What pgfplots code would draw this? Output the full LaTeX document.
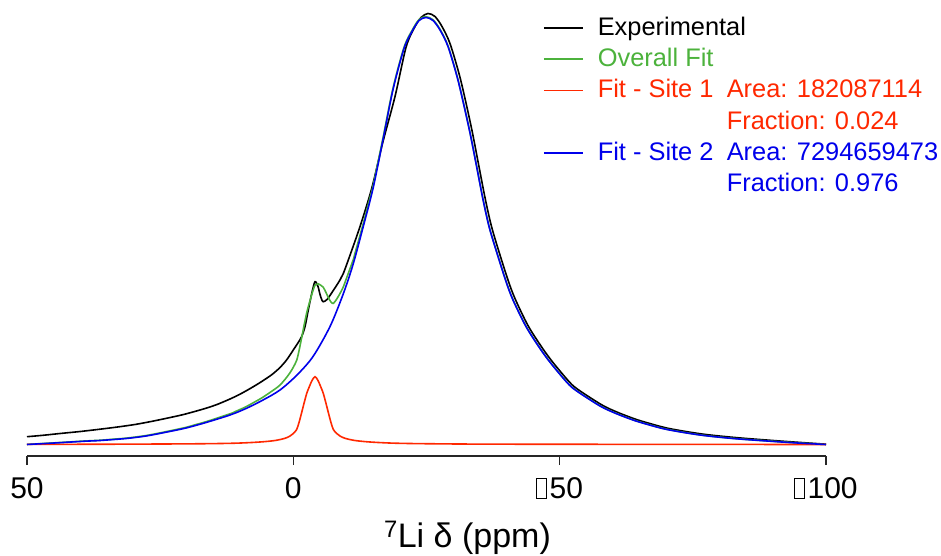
\documentclass[border=0pt]{standalone}
\usepackage{fontspec}
\setmainfont{Liberation Sans}
\usepackage{pgfplots}
\pgfplotsset{compat=1.18}
\definecolor{cgreen}{RGB}{76,178,60}
\definecolor{cred}{RGB}{255,40,0}
\definecolor{cblue}{RGB}{0,0,235}
\newcommand{\nd}{{\setlength{\fboxsep}{0pt}\setlength{\fboxrule}{1.1pt}\fbox{\rule{0pt}{19pt}\hspace{8.5pt}}}\hspace{2.5pt}}
\begin{document}
\begin{tikzpicture}
\useasboundingbox (-27pt,-100pt) rectangle (914pt,456pt);
\begin{axis}[
  at={(0pt,0pt)}, anchor=south west,
  scale only axis, width=799pt, height=456pt,
  x dir=reverse, xmin=-100, xmax=50, ymin=-11.5, ymax=444.5,
  axis x line*=bottom, axis y line=none,
  axis line style={line width=1.5pt, black!85},
  xtick={50,0,-50,-100}, xticklabels={50,0,\nd50,\nd100},
  tick align=outside, major tick length=9pt,
  tick style={line width=1.3pt, black!85},
  xticklabel style={font=\fontsize{30}{36}\selectfont, inner sep=0pt, yshift=-12pt},
  xlabel={\textsuperscript{7}Li δ (ppm)},
  xlabel style={font=\fontsize{34}{40}\selectfont, at={(axis description cs:0.5513,0)}, anchor=base, yshift=-91pt, inner sep=0pt},
  legend cell align=left,
  legend style={at={(axis cs:-46.87,432)}, anchor=north west, draw=none, fill=none,
    inner sep=0pt, outer sep=0pt, row sep=0pt,
    font=\fontsize{25.4}{30}\selectfont,
    nodes={inner sep=0pt, text height=23.1pt, text depth=8.1pt}},
  legend image code/.code={\draw[#1, line width=1.6pt] (0pt,0pt) -- (39pt,0pt); \path[draw=none, fill=none] (0pt,0pt) -- (54pt,0pt);},
  every axis plot/.append style={line width=1.6pt},
  clip=false,
]
% Experimental
\addplot[black, smooth] coordinates {
(50.00,7.8) (47.00,9.2) (43.80,11) (40.00,13) (36.30,15.3) (33.00,17.5) (29.73,20) (26.70,23)
(23.72,26.3) (20.60,30) (17.52,34.5) (15.90,37.1) (14.33,40) (13.10,42.7) (11.89,45.5) (10.30,49.5)
(8.75,54) (7.20,58.8) (5.64,64) (4.00,70) (2.50,77) (1.20,85) (0.01,94.5) (-0.80,101)
(-1.57,108) (-2.20,118) (-2.81,134.5) (-3.50,152) (-4.07,162.8) (-4.63,158) (-5.01,150) (-5.40,144)
(-5.63,142.8) (-6.33,145) (-7.50,154) (-8.76,164.5) (-9.38,171) (-10.32,184.5) (-12.52,218) (-14.71,256)
(-16.84,303) (-19.09,348) (-21.15,397) (-22.65,416) (-23.97,427) (-25.28,431) (-26.59,428) (-27.91,418)
(-29.41,401) (-31.10,371) (-32.23,346) (-33.54,314) (-34.67,283) (-35.98,247) (-37.11,220) (-38.42,196)
(-40.30,164.5) (-41.61,146) (-44.05,119) (-46.68,97) (-48.75,82) (-51.75,63) (-53.44,55) (-57.95,39.5)
(-60.95,32) (-64.14,25.5) (-66.58,21.5) (-70.52,16) (-76.72,10.5) (-82.91,7) (-89.30,4.3) (-94.74,2.2)
(-100.00,0.3)};
\addlegendentry{Experimental}
% Overall fit
\addplot[cgreen, smooth] coordinates {
(50.00,0.1) (44.55,1.75) (39.11,3.5) (36.29,4.25) (33.48,5.45) (31.41,6.35) (27.66,8.95) (23.71,13.05)
(20.15,17.15) (18.46,19.7) (16.39,22.8) (11.89,30.7) (10.95,32.8) (8.88,37.8) (6.26,45.5) (5.69,47.3)
(3.44,55.5) (2.50,59.5) (1.56,65.1) (0.62,71.8) (0.00,77.3) (-0.63,84.2) (-1.07,93.8) (-1.57,106.9)
(-2.00,118.6) (-2.51,131.7) (-2.94,140.3) (-3.51,150.8) (-4.07,159.3) (-4.63,160.7) (-5.20,159.1) (-5.63,157.2)
(-6.14,151.9) (-6.57,147) (-7.07,142.4) (-7.51,141.1) (-8.14,145.4) (-8.76,151) (-9.33,157) (-9.70,162.1)
(-11.21,184.3) (-11.58,191.3) (-13.08,220) (-14.40,246.9) (-14.96,258.3) (-16.84,306.8) (-18.72,356.5) (-20.78,397.2)
(-22.28,414) (-23.60,424.9) (-24.91,427.8) (-26.22,424.7) (-27.54,415.2) (-29.04,398.6) (-30.73,368.5) (-31.86,343.5)
(-33.17,311.9) (-34.30,281.4) (-35.61,245.3) (-36.74,218.3) (-38.05,194.8) (-39.93,163.3) (-41.24,144.8) (-43.68,118.2)
(-46.31,96.2) (-48.38,81.2) (-51.38,62.2) (-53.07,54.2) (-57.58,38.7) (-60.58,31.2) (-63.77,24.7) (-66.21,20.7)
(-70.15,15.2) (-76.35,9.6) (-82.54,6.1) (-88.93,3.6) (-94.37,1.7) (-100.00,0)};
\addlegendentry{\textcolor{cgreen}{Overall Fit}}
% Site 1
\addplot[cred, smooth] coordinates {
(50.00,0.1) (33.48,0.3) (18.46,0.7) (10.95,1.3) (6.26,2.5) (3.44,4) (1.56,6.2) (0.62,8.5)
(0.00,11) (-0.63,15) (-1.07,22) (-1.57,32) (-2.00,41) (-2.51,51) (-2.94,57) (-3.51,64)
(-4.07,67.8) (-4.63,64) (-5.20,57) (-5.63,51) (-6.14,41) (-6.57,32) (-7.07,22) (-7.51,15)
(-8.14,11) (-8.76,8.5) (-9.70,6.2) (-11.58,4) (-14.40,2.5) (-19.09,1.3) (-26.60,0.7) (-41.62,0.3)
(-100.00,0)};
\addlegendentry{\textcolor{cred}{\makebox[129pt][l]{Fit - Site 1}Area: 182087114}}
\addlegendimage{empty legend}
\addlegendentry{\textcolor{cred}{\hspace*{129pt}Fraction: 0.024}}
% Site 2
\addplot[cblue, smooth] coordinates {
(50.00,0) (44.55,1.6) (39.11,3.3) (36.29,4) (31.41,6) (27.66,8.5) (23.71,12.5) (20.15,16.5)
(16.39,22) (11.89,29.5) (8.88,36) (5.69,44.5) (2.50,54.5) (-0.69,69.5) (-3.70,88) (-6.89,118)
(-9.33,150) (-11.21,180) (-13.08,217) (-14.96,256) (-16.84,305) (-18.72,355) (-20.78,396) (-22.28,413)
(-23.60,424) (-24.91,427) (-26.22,424) (-27.54,414.5) (-29.04,398) (-30.73,368) (-31.86,343) (-33.17,311.5)
(-34.30,281) (-35.61,245) (-36.74,218) (-38.05,194.5) (-39.93,163) (-41.24,144.5) (-43.68,118) (-46.31,96)
(-48.38,81) (-51.38,62) (-53.07,54) (-57.58,38.5) (-60.58,31) (-63.77,24.5) (-66.21,20.5) (-70.15,15)
(-76.35,9.5) (-82.54,6) (-88.93,3.5) (-94.37,1.6) (-100.00,0)};
\addlegendentry{\textcolor{cblue}{\makebox[129pt][l]{Fit - Site 2}Area: 7294659473}}
\addlegendimage{empty legend}
\addlegendentry{\textcolor{cblue}{\hspace*{129pt}Fraction: 0.976}}
\end{axis}
\end{tikzpicture}
\end{document}
